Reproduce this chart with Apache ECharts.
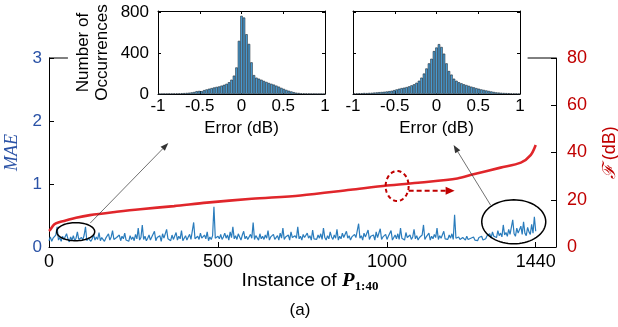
<!DOCTYPE html>
<html><head><meta charset="utf-8">
<script src="https://cdn.jsdelivr.net/npm/echarts@6/dist/echarts.min.js"></script>
<style>html,body{margin:0;padding:0;background:#fff}#c{width:618px;height:327px}</style>
</head><body><div id="c"></div>
<script>
// ---------- data ----------
const maeStep = 4; // instance spacing of the MAE samples below
const maeValues = [
0.10,0.16,0.09,0.14,0.12,0.19,0.32,0.11,0.15,0.09,0.17,0.12,0.10,0.21,0.13,0.08,0.16,0.11,0.18,0.10,0.14,0.24,0.12,0.09,0.15,
0.11,0.19,0.32,0.10,0.14,0.17,0.09,0.13,0.20,0.11,0.16,0.12,0.23,0.10,0.15,0.18,0.09,0.14,0.12,0.21,0.11,0.16,0.26,0.12,0.10,
0.15,0.12,0.19,0.10,0.17,0.13,0.22,0.11,0.14,0.09,0.18,0.12,0.16,0.10,0.20,0.13,0.30,0.11,0.15,0.35,0.12,0.17,0.10,0.14,0.19,
0.11,0.16,0.13,0.25,0.10,0.15,0.12,0.18,0.09,0.21,0.14,0.11,0.28,0.13,0.16,0.10,0.19,0.12,0.15,0.23,0.11,0.17,0.13,0.26,0.10,
0.14,0.18,0.11,0.16,0.20,0.12,0.15,0.39,0.13,0.10,0.17,0.12,0.22,0.14,0.11,0.19,0.13,0.24,0.10,0.16,0.12,0.18,0.64,0.14,0.11,
0.17,0.13,0.20,0.12,0.16,0.22,0.14,0.19,0.11,0.24,0.15,0.32,0.13,0.18,0.12,0.21,0.16,0.11,0.19,0.25,0.13,0.17,0.12,0.15,0.20,
0.14,0.39,0.12,0.18,0.15,0.11,0.21,0.13,0.17,0.12,0.19,0.14,0.26,0.11,0.16,0.13,0.20,0.12,0.15,0.18,0.11,0.22,0.14,0.30,0.12,
0.16,0.13,0.19,0.11,0.24,0.15,0.12,0.18,0.14,0.32,0.13,0.17,0.11,0.20,0.15,0.12,0.22,0.14,0.18,0.11,0.27,0.13,0.16,0.12,0.19,
0.14,0.21,0.12,0.30,0.15,0.11,0.18,0.13,0.24,0.16,0.12,0.19,0.14,0.28,0.11,0.17,0.13,0.22,0.15,0.12,0.25,0.14,0.18,0.11,0.16,
0.13,0.20,0.15,0.12,0.37,0.14,0.18,0.11,0.22,0.16,0.13,0.27,0.12,0.17,0.14,0.19,0.11,0.24,0.15,0.13,0.29,0.12,0.16,0.14,0.20,
0.12,0.17,0.14,0.26,0.11,0.15,0.19,0.13,0.21,0.12,0.30,0.14,0.17,0.11,0.23,0.15,0.13,0.19,0.12,0.16,0.28,0.13,0.18,0.11,0.15,
0.13,0.19,0.35,0.12,0.16,0.14,0.22,0.11,0.17,0.13,0.20,0.15,0.30,0.12,0.18,0.14,0.11,0.25,0.13,0.16,0.12,0.19,0.14,0.21,0.12,
0.51,0.14,0.11,0.16,0.12,0.10,0.15,0.13,0.11,0.17,0.12,0.10,0.14,0.12,0.16,0.11,0.13,0.10,0.15,0.12,0.17,0.11,0.14,0.13,0.18,
0.15,0.21,0.14,0.24,0.17,0.20,0.15,0.26,0.18,0.22,0.16,0.35,0.19,0.23,0.17,0.28,0.20,0.18,0.43,0.21,0.17,0.30,0.22,0.19,0.33,
0.20,0.40,0.22,0.18,0.31,0.24,0.20,0.36,0.22,0.48,0.25
];
const fInstances = [0,3,15,30,47,80,121,200,270,370,467,600,744,892,1000,1100,1208,1256,1336,1396,1425,1440];
const fValues    = [6.8,7.2,9.5,10.5,11.1,12.4,13.5,14.9,16.0,17.3,18.8,20.4,21.8,24.2,26.0,27.3,29.0,30.8,33.6,35.7,38.9,43.2];

const binCenters = ['-0.99','-0.96','-0.93','-0.90','-0.87','-0.84','-0.81','-0.78','-0.75','-0.72','-0.69','-0.66','-0.63','-0.60','-0.57','-0.54','-0.51','-0.48','-0.45','-0.42','-0.39','-0.36','-0.33','-0.30','-0.27','-0.24','-0.21','-0.18','-0.15','-0.12','-0.09','-0.06','-0.03','0.00','0.03','0.06','0.09','0.12','0.15','0.18','0.21','0.24','0.27','0.30','0.33','0.36','0.39','0.42','0.45','0.48','0.51','0.54','0.57','0.60','0.63','0.66','0.69','0.72','0.75','0.78','0.81','0.84','0.87','0.90','0.93','0.96','0.99'];
const hist1Counts = [2,2,3,3,4,4,5,6,6,8,9,11,13,16,20,28,30,28,38,45,52,58,64,70,74,82,90,100,115,140,180,260,520,765,748,585,490,310,185,160,150,140,128,118,108,100,92,82,72,60,50,40,32,25,18,13,10,7,6,5,4,3,3,2,2,2,1];
const hist2Counts = [5,6,7,8,10,9,11,12,14,16,18,20,22,25,28,32,38,45,52,58,62,68,75,85,95,110,130,160,200,250,300,345,420,455,488,460,395,300,225,190,150,130,115,105,95,88,80,72,65,58,52,45,40,35,30,25,20,16,14,12,10,9,8,6,5,4,3];

const xTicks = [0, 500, 1000, 1440];
const maeTicks = [0, 1, 2, 3];
const fTicks = [0, 20, 40, 60, 80];
const errTicks = [-1, -0.5, 0, 0.5, 1];
const countTicks = [0, 400, 800];

// ---------- chart ----------
const FONT = 'Liberation Sans';
const BLUE_TXT = '#2a52a6', RED_TXT = '#c00000';
const chart = echarts.init(document.getElementById('c'), null, {renderer: 'canvas'});

const maeData = maeValues.map((v, i) => [i * maeStep, v]);
const fData = fInstances.map((x, i) => [x, fValues[i]]);
const plain = v => String(v);

function insetValueX(gridIndex, pos, labels, name) {
  return {
    gridIndex, type: 'value', min: -1, max: 1, position: pos,
    axisLine: {show: true, onZero: false, lineStyle: {color: '#000', width: 1}},
    axisTick: {show: true, inside: true, length: 3, customValues: errTicks, lineStyle: {color: '#000'}},
    axisLabel: {show: labels, fontSize: 17, color: '#000', margin: 4, customValues: errTicks, formatter: plain, fontFamily: FONT},
    splitLine: {show: false},
    name: name || '', nameLocation: 'middle', nameGap: 26,
    nameTextStyle: {fontSize: 17, color: '#000', fontFamily: FONT}
  };
}
function insetValueY(gridIndex, pos, labels, name) {
  return {
    gridIndex, type: 'value', min: 0, max: 812, position: pos,
    axisLine: {show: true, onZero: false, lineStyle: {color: '#000', width: 1}},
    axisTick: {show: true, inside: true, length: 3, customValues: countTicks, lineStyle: {color: '#000'}},
    axisLabel: {show: labels, fontSize: 17, color: '#000', margin: 9, customValues: countTicks, formatter: plain, fontFamily: FONT},
    splitLine: {show: false},
    name: name || '', nameLocation: 'middle', nameRotate: 90, nameGap: 46,
    nameTextStyle: {fontSize: 17, color: '#000', lineHeight: 19, fontFamily: FONT}
  };
}

const option = {
  animation: false,
  textStyle: {fontFamily: FONT},
  grid: [
    {left: 49, right: 62, top: 58, bottom: 80, outerBoundsMode: 'none', containLabel: false},
    {left: 158, width: 167, top: 11, height: 83, outerBoundsMode: 'none', containLabel: false},
    {left: 353, width: 167, top: 11, height: 83, outerBoundsMode: 'none', containLabel: false}
  ],
  xAxis: [
    {gridIndex: 0, type: 'value', min: 0, max: 1500, position: 'bottom',
     axisLine: {show: true, onZero: false, lineStyle: {color: '#000', width: 1}},
     axisTick: {show: true, inside: true, length: 5, customValues: xTicks, lineStyle: {color: '#000'}},
     axisLabel: {fontSize: 18, color: '#000', margin: 6, customValues: xTicks, formatter: plain, fontFamily: FONT},
     splitLine: {show: false}},
    {gridIndex: 1, type: 'category', data: binCenters, show: false, boundaryGap: true},
    insetValueX(1, 'bottom', true, 'Error (dB)'),
    insetValueX(1, 'top', false),
    {gridIndex: 2, type: 'category', data: binCenters, show: false, boundaryGap: true},
    insetValueX(2, 'bottom', true, 'Error (dB)'),
    insetValueX(2, 'top', false)
  ],
  yAxis: [
    {gridIndex: 0, type: 'value', min: 0, max: 3, position: 'left',
     axisLine: {show: true, onZero: false, lineStyle: {color: '#000', width: 1}},
     axisTick: {show: true, inside: true, length: 5, customValues: maeTicks, lineStyle: {color: '#000'}},
     axisLabel: {fontSize: 17, color: BLUE_TXT, margin: 7, customValues: maeTicks, formatter: plain, fontFamily: FONT},
     splitLine: {show: false},
     name: 'MAE', nameLocation: 'middle', nameRotate: 90, nameGap: 24,
     nameTextStyle: {fontSize: 18, color: BLUE_TXT, fontStyle: 'italic', fontFamily: 'Liberation Serif'}},
    {gridIndex: 0, type: 'value', min: 0, max: 80, position: 'right',
     axisLine: {show: true, onZero: false, lineStyle: {color: '#000', width: 1}},
     axisTick: {show: true, inside: true, length: 5, customValues: fTicks, lineStyle: {color: '#000'}},
     axisLabel: {fontSize: 18, color: RED_TXT, margin: 11, customValues: fTicks, formatter: plain, fontFamily: FONT},
     splitLine: {show: false},
     name: '{f|ℱ} {t|(dB)}', nameLocation: 'middle', nameRotate: 90, nameGap: 45,
     nameTextStyle: {color: RED_TXT, rich: {
       f: {fontSize: 18, color: RED_TXT, fontFamily: 'DejaVu Serif', fontStyle: 'italic'},
       t: {fontSize: 18, color: RED_TXT, fontFamily: FONT}}}},
    insetValueY(1, 'left', true, 'Number of\nOccurrences'),
    insetValueY(1, 'right', false),
    insetValueY(2, 'left', false),
    insetValueY(2, 'right', false)
  ],
  series: [
    {type: 'line', name: 'MAE', xAxisIndex: 0, yAxisIndex: 0, data: maeData,
     showSymbol: false, lineStyle: {color: '#2a7cbc', width: 1.2}, z: 3},
    {type: 'line', name: 'F', xAxisIndex: 0, yAxisIndex: 1, data: fData, smooth: 0.3,
     showSymbol: false, lineStyle: {color: '#e0262b', width: 2.6}, z: 4},
    {type: 'bar', xAxisIndex: 1, yAxisIndex: 2, data: hist1Counts, barCategoryGap: '0%',
     itemStyle: {color: '#4aa2dc', borderColor: '#1c2833', borderWidth: 0.6}},
    {type: 'bar', xAxisIndex: 4, yAxisIndex: 4, data: hist2Counts, barCategoryGap: '0%',
     itemStyle: {color: '#4aa2dc', borderColor: '#1c2833', borderWidth: 0.6}}
  ]
};
chart.setOption(option);

// ---------- annotations ----------
function px(x, y, yIdx) {
  return chart.convertToPixel({xAxisIndex: 0, yAxisIndex: yIdx || 0}, [x, y]);
}
function ellipsePts(c, rx, ry) {
  const pts = [];
  for (let k = 0; k < 72; k++) {
    const a = k / 72 * Math.PI * 2;
    pts.push([c[0] + rx * Math.cos(a), c[1] + ry * Math.sin(a)]);
  }
  return pts;
}
function arrow(p0, p1, color, width, dash, headLen, headW) {
  const dx = p1[0] - p0[0], dy = p1[1] - p0[1];
  const L = Math.sqrt(dx * dx + dy * dy), ux = dx / L, uy = dy / L;
  const b = [p1[0] - ux * headLen, p1[1] - uy * headLen];
  return [
    {type: 'line', shape: {x1: p0[0], y1: p0[1], x2: b[0], y2: b[1]},
     style: {stroke: color, lineWidth: width, lineDash: dash || null}, z: 10},
    {type: 'polygon', shape: {points: [p1, [b[0] - uy * headW, b[1] + ux * headW], [b[0] + uy * headW, b[1] - ux * headW]]},
     style: {fill: color}, z: 10}
  ];
}
const g = [];
const tl = px(0, 3), tA = px(56, 3), tB = px(1416, 3), tr = px(1500, 3);
g.push({type: 'line', shape: {x1: tl[0], y1: tl[1], x2: tA[0], y2: tA[1]}, style: {stroke: '#000', lineWidth: 1}});
g.push({type: 'line', shape: {x1: tB[0], y1: tB[1], x2: tr[0], y2: tr[1]}, style: {stroke: '#000', lineWidth: 1}});
const e1 = px(79, 0.243), e2 = px(1375, 0.40);
g.push({type: 'polygon', shape: {points: ellipsePts(e1, 19, 9)}, style: {fill: null, stroke: '#000', lineWidth: 1.5}, z: 10});
g.push({type: 'polygon', shape: {points: ellipsePts(e2, 32, 22)}, style: {fill: null, stroke: '#000', lineWidth: 1.5}, z: 10});
g.push(...arrow(px(122, 0.38), px(353, 1.65), '#333', 0.7, null, 8, 3));
g.push(...arrow(px(1307, 0.66), px(1197, 1.62), '#333', 0.7, null, 8, 3));
const e3 = px(1030, 25.8, 1);
g.push({type: 'polygon', shape: {points: ellipsePts(e3, 11.5, 15)}, style: {fill: null, stroke: RED_TXT, lineWidth: 2, lineDash: [4, 3]}, z: 10});
g.push(...arrow(px(1064, 23.8, 1), px(1200, 23.8, 1), RED_TXT, 2, [5, 3], 9, 4));
g.push({type: 'text', x: 310, y: 281, z: 10, scaleX: 1.08, style: {
  text: '{a|Instance of }{p|P}{s|1:40}', align: 'center', verticalAlign: 'middle',
  rich: {
    a: {fontSize: 18, fontFamily: FONT, fill: '#000', lineHeight: 24},
    p: {fontSize: 19, fontFamily: 'Liberation Serif', fontStyle: 'italic', fontWeight: 'bold', fill: '#000', lineHeight: 24},
    s: {fontSize: 12, fontFamily: 'Liberation Serif', fontWeight: 'bold', fill: '#000', lineHeight: 12, verticalAlign: 'bottom'}
  }}});
g.push({type: 'text', x: 300, y: 310, z: 10, style: {text: '(a)', fontSize: 17, fontFamily: FONT, fill: '#000', align: 'center', verticalAlign: 'middle'}});
chart.setOption({graphic: g});
</script>
</body></html>
